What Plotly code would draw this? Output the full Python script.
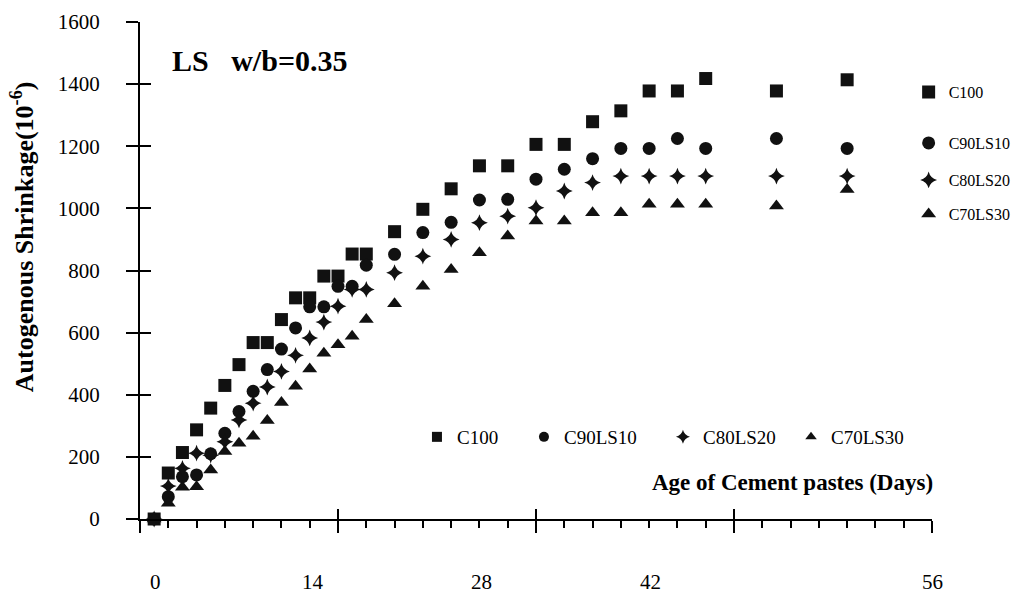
import plotly.graph_objects as go

# ---- data ----
days = [1, 2, 3, 4, 5, 6, 7, 8, 9, 10, 11, 12, 13, 14, 15, 16,
        18, 20, 22, 24, 26, 28, 30, 32, 34, 36, 38, 40, 45, 50]
c100 = [0, 148, 214, 287, 357, 430, 497, 568, 568, 642, 712, 712, 782, 782, 853, 853,
        925, 997, 1063, 1137, 1137, 1206, 1206, 1279, 1314, 1378, 1378, 1418, 1378, 1414]
c90ls10 = [0, 72, 136, 142, 210, 276, 346, 411, 481, 547, 615, 683, 683, 749, 749, 817,
           852, 922, 955, 1027, 1029, 1094, 1126, 1160, 1193, 1193, 1225, 1193, 1225, 1193]
c80ls20 = [0, 106, 163, 212, 205, 249, 319, 373, 425, 475, 527, 583, 634, 685, 739, 739,
           793, 846, 900, 954, 975, 1002, 1056, 1083, 1104, 1104, 1104, 1104, 1104, 1104]
c70ls30 = [0, 51, 102, 104, 158, 217, 244, 266, 317, 375, 427, 483, 534, 561, 588, 642,
           693, 749, 803, 857, 911, 959, 959, 986, 986, 1013, 1013, 1013, 1008, 1061]

series_names = ["C100", "C90LS10", "C80LS20", "C70LS30"]
series_values = [c100, c90ls10, c80ls20, c70ls30]
x_tick_labels = ["0", "14", "28", "42", "56"]
title_text = "LS\u00a0\u00a0\u00a0w/b=0.35"
x_title = "Age of Cement pastes (Days)"
y_title = "Autogenous Shrinkage(10<sup>-6</sup>)"

# ---- styles ----
FONT = "Liberation Serif"
INK = "#111111"
symbols = ["square", "circle", "star-diamond", "triangle-up"]
plot_sizes = [13, 13, 12, 13]
small_sizes = [10, 10, 10, 10]
right_leg_y = [0.859, 0.7565, 0.682, 0.6137]
bottom_leg_x = [0.3497, 0.4848, 0.6603, 0.8220]
x_label_pos = [0.019, 0.218, 0.4306, 0.645, 1.0]

fig = go.Figure()

for i, (name, vals) in enumerate(zip(series_names, series_values)):
    fig.add_trace(go.Scatter(
        x=days, y=vals, mode="markers", name=name,
        marker=dict(symbol=symbols[i], size=plot_sizes[i], color=INK,
                    line=dict(width=0)),
        cliponaxis=False,
        legend="legend" if i == 0 else f"legend{i + 1}",
    ))

for i, name in enumerate(series_names):
    fig.add_trace(go.Scatter(
        x=[None], y=[None], mode="markers", name=name,
        marker=dict(symbol=symbols[i], size=small_sizes[i], color=INK,
                    line=dict(width=0)),
        legend=f"legend{i + 5}",
    ))

# helper trace for the overlay axes (crossing ticks)
fig.add_trace(go.Scatter(x=[None], y=[None], xaxis="x2", yaxis="y2",
                         showlegend=False, hoverinfo="skip"))

legends = {}
for i in range(4):
    key = "legend" if i == 0 else f"legend{i + 1}"
    legends[key] = dict(x=0.9705, y=right_leg_y[i], xanchor="left", yanchor="middle",
                        font=dict(family=FONT, size=16, color="black"),
                        bgcolor="rgba(0,0,0,0)", borderwidth=0)
for i in range(4):
    legends[f"legend{i + 5}"] = dict(x=bottom_leg_x[i], y=0.165, xanchor="left",
                                     yanchor="middle",
                                     font=dict(family=FONT, size=19, color="black"),
                                     bgcolor="rgba(0,0,0,0)", borderwidth=0)

annotations = [
    dict(text=f"<b>{title_text}</b>", x=0.038, y=0.9235, xref="paper", yref="paper",
         xanchor="left", yanchor="middle", showarrow=False,
         font=dict(family=FONT, size=30, color="black")),
    dict(text=f"<b>{x_title}</b>", x=1.004, y=0.0744, xref="paper", yref="paper",
         xanchor="right", yanchor="middle", showarrow=False,
         font=dict(family=FONT, size=23, color="black")),
    dict(text=f"<b>{y_title}</b>", x=-0.149, y=0.569, xref="paper", yref="paper",
         xanchor="center", yanchor="middle", textangle=-90, showarrow=False,
         font=dict(family=FONT, size=26, color="black")),
]
for lab, xp in zip(x_tick_labels, x_label_pos):
    annotations.append(dict(text=lab, x=xp, y=-0.127, xref="paper", yref="paper",
                            xanchor="center", yanchor="middle", showarrow=False,
                            font=dict(family=FONT, size=21, color="black")))

fig.update_layout(
    width=1018, height=593,
    margin=dict(l=140, r=86, t=22, b=74, autoexpand=False),
    paper_bgcolor="white", plot_bgcolor="white",
    font=dict(family=FONT, color="black"),
    showlegend=True,
    annotations=annotations,
    xaxis=dict(range=[0, 56], dtick=14, tick0=0, showticklabels=False,
               ticks="outside", ticklen=12, tickwidth=2, tickcolor="black",
               minor=dict(dtick=2, ticks="outside", ticklen=7, tickwidth=1.5,
                          tickcolor="black", showgrid=False),
               showline=True, linecolor="black", linewidth=2,
               showgrid=False, zeroline=False, fixedrange=True),
    yaxis=dict(range=[0, 1600], dtick=200, tick0=0,
               ticks="outside", ticklen=12, tickwidth=2, tickcolor="black",
               ticklabelstandoff=22,
               tickfont=dict(family=FONT, size=21, color="black"),
               showline=True, linecolor="black", linewidth=2,
               showgrid=False, zeroline=False, fixedrange=True),
    xaxis2=dict(overlaying="x", anchor="y2", range=[0, 56], dtick=14, tick0=0,
                ticks="inside", ticklen=10, tickwidth=2, tickcolor="black",
                showticklabels=False, showline=False, showgrid=False,
                zeroline=False, fixedrange=True),
    yaxis2=dict(overlaying="y", anchor="x2", range=[0, 1600], dtick=200, tick0=0,
                ticks="inside", ticklen=11, tickwidth=2, tickcolor="black",
                showticklabels=False, showline=False, showgrid=False,
                zeroline=False, fixedrange=True),
    **legends,
)

fig.write_html("out.html")
